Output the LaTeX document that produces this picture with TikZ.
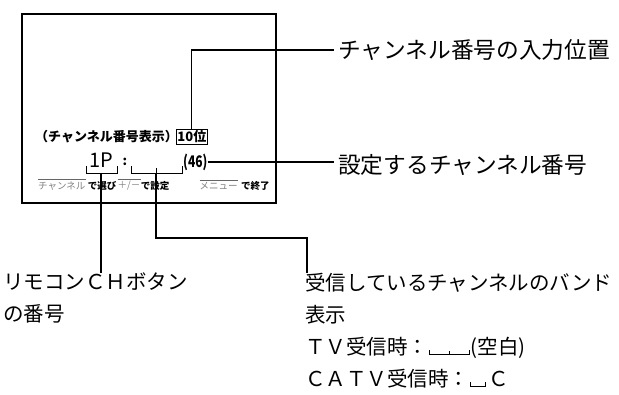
\documentclass[tikz,border=0pt]{standalone}
\usepackage{fontspec}
\setmainfont{Noto Sans CJK JP}
\newfontfamily\jpcond[FakeStretch=0.75]{Noto Sans CJK JP}
\usetikzlibrary{positioning}

% blank marks for the band display
\newcommand{\oneblank}{\kern1pt\rule{0.9pt}{5pt}\rule{14pt}{0.9pt}\rule{0.9pt}{5pt}\kern2pt}
\newcommand{\twoblank}{\kern1pt\rule{0.9pt}{5pt}\rule{19pt}{0.9pt}\rule{0.9pt}{4pt}\rule{19pt}{0.9pt}\rule{0.9pt}{5pt}\kern1pt}

\begin{document}
\begin{tikzpicture}[
    x=1pt, y=1pt,
    screen/.style={draw, line width=1.8pt},
    lead/.style={line width=1.1pt},
    callout/.style={anchor=west, inner sep=0pt, align=left,
        font=\fontsize{20.5}{32}\selectfont},
    bigcallout/.style={callout, font=\fontsize{22.7}{32}\selectfont},
    osd/.style={inner sep=0pt, font=\bfseries\fontsize{13}{14}\selectfont},
    keycap/.style={inner sep=0pt, text=gray, font=\fontsize{9.5}{10}\selectfont},
    keytxt/.style={inner sep=0pt, font=\bfseries\fontsize{9.5}{10}\selectfont},
    bracket/.style={line width=0.9pt}
]
\useasboundingbox (0,0) rectangle (619,-395);

% Screen
\draw[screen] (22,-14) rectangle (276,-203);

% On-screen display
\node[osd, anchor=west] (title) at (35,-137) {（チャンネル番号表示）};
\node[osd, draw, line width=0.9pt, inner sep=1pt, anchor=west] (pos10) at (176,-137) {10位};
\node[anchor=base west, inner sep=0pt, font=\fontsize{20}{20}\selectfont] (remo) at (89,-168) {1P};
\node[osd, anchor=base] (colon) at (125,-166) {:};
\node[osd, font=\jpcond\bfseries\fontsize{16}{16}\selectfont, anchor=west] (ch46) at (183,-162) {(46)};

% Digit brackets
\draw[bracket] (86,-166) |- (117,-173) -- (117,-166);
\coordinate (brA) at (101,-173);
\draw[bracket] (131,-166) |- (182,-173) -- (182,-166);
\draw[bracket] (156,-168) -- (156,-173);
\coordinate (brB) at (156,-173);

% Guide row
\node[keycap, anchor=west] (kch) at (38,-186) {チャンネル};
\node[keytxt, right=2pt of kch] (sel) {で選び};
\node[keycap, right=1pt of sel] (kpm) {＋/－};
\node[keytxt, right=0pt of kpm] (set) {で設定};
\node[keycap, right=30pt of set] (kmenu) {メニュー};
\node[keytxt, right=3pt of kmenu] (done) {で終了};
\foreach \k in {kch,kpm,kmenu}
  \draw[gray!80!black, line width=0.6pt] ([yshift=2pt]\k.north west) -- ([yshift=2pt]\k.north east);

% Callouts
\node[bigcallout] (inpos) at (338,-50) {チャンネル番号の入力位置};
\node[bigcallout] (setch) at (338,-165) {設定するチャンネル番号};
\node[callout, anchor=north west] (rcnum) at (3,-273) {リモコンＣＨボタン\\の番号};
\node[callout, anchor=north west] (band) at (305,-273)
  {受信しているチャンネルのバンド\\表示\\ＴＶ受信時：\twoblank(空白)\\ＣＡＴＶ受信時：\oneblank Ｃ};

% Leaders
\draw[lead] (pos10.north) |- ([xshift=-4pt]inpos.west);
\draw[lead, shorten >=4pt] (ch46.east) -- (ch46.east -| setch.west);
\draw[lead] (brA) -- (brA |- rcnum.north);
\coordinate (bend) at (307,-238);
\draw[lead] (brB) |- (bend) -- (bend |- band.north);

\end{tikzpicture}
\end{document}
